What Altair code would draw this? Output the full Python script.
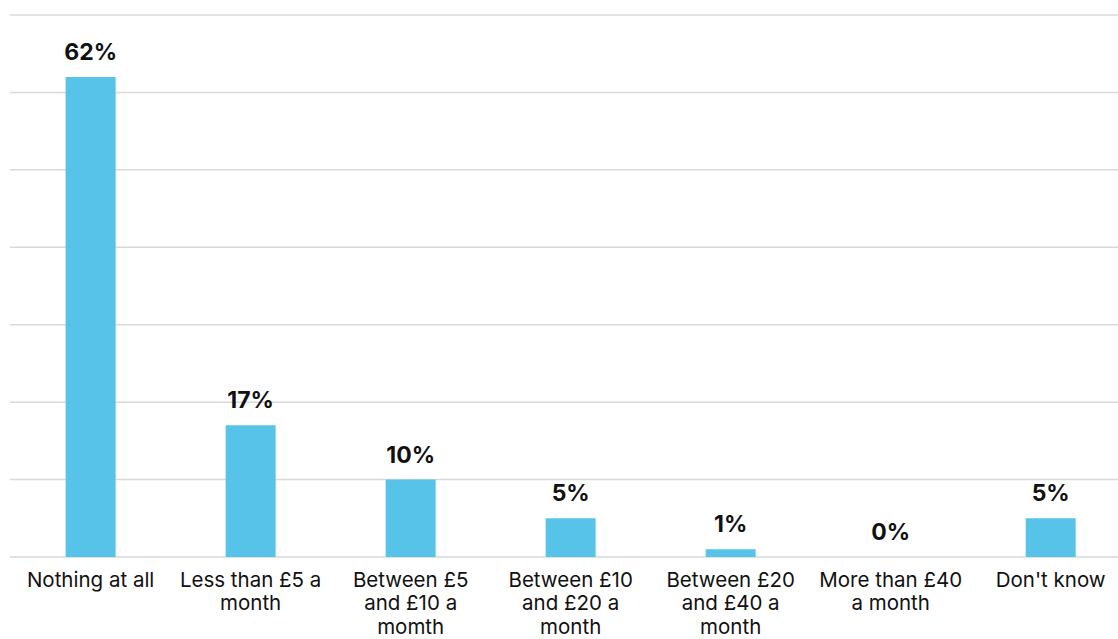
import altair as alt
import pandas as pd

categories = [
    "Nothing at all",
    "Less than £5 a|month",
    "Between £5|and £10 a|momth",
    "Between £10|and £20 a|month",
    "Between £20|and £40 a|month",
    "More than £40|a month",
    "Don't know",
]
values = [62, 17, 10, 5, 1, 0, 5]
value_labels = [f"{v}%" for v in values]
grid_values = [0, 10, 20, 30, 40, 50, 60, 70]

df = pd.DataFrame({"cat": categories, "val": values, "lab": value_labels})
grid_df = pd.DataFrame({"g": grid_values})

FONT = "Inter"
BAR = "#57C3E8"

x = alt.X(
    "cat:N",
    sort=categories,
    title=None,
    scale=alt.Scale(paddingInner=0.6875, paddingOuter=0.306, align=0.568),
    axis=alt.Axis(
        labelExpr="split(datum.value, '|')",
        labelAngle=0,
        labelFont=FONT,
        labelFontSize=20.5,
        labelColor="#111111",
        labelLineHeight=23.5,
        labelPadding=13,
        labelBaseline="top",
        ticks=False,
        domain=False,
        grid=False,
        labelLimit=300,
    ),
)
yscale = alt.Scale(domain=[0, 70], nice=False)
y = alt.Y("val:Q", title=None, scale=yscale, axis=None)

grid = alt.Chart(grid_df).mark_rule(color="#D9D9D9", strokeWidth=1.5).encode(
    y=alt.Y("g:Q", scale=yscale, axis=None)
)

base = alt.Chart(df).encode(x=x, y=y)
bars = base.mark_bar(color=BAR)
text = base.mark_text(
    baseline="alphabetic", dy=-17, font=FONT, fontSize=23, fontWeight="bold", color="#111111"
).encode(text="lab:N")

chart = (
    alt.layer(grid, bars, text, view=alt.ViewBackground(stroke=None))
    .properties(
        width=1108,
        height=542,
        autosize=alt.AutoSizeParams(type="none"),
        padding={"left": 10, "top": 15, "right": 0, "bottom": 82},
    )
    .configure_view(strokeWidth=0)
    .configure(background="white")
)

chart.save("out.html", embed_options={"renderer": "svg", "actions": False})
